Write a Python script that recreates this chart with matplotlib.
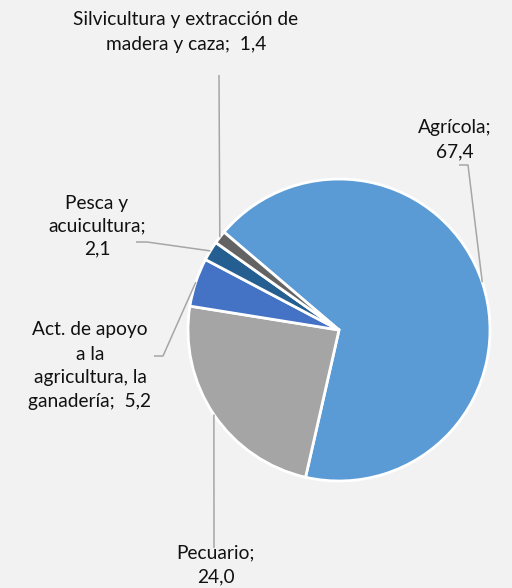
import numpy as np
import matplotlib
matplotlib.use("Agg")
import matplotlib.pyplot as plt

# ---- data ----
categories = ["Agrícola", "Pecuario", "Act. de apoyo a la agricultura, la ganadería",
              "Pesca y acuicultura", "Silvicultura y extracción de madera y caza"]
values = [67.4, 24.0, 5.2, 2.1, 1.4]
label_texts = ["Agrícola;\n67,4", "Pecuario;\n24,0",
               "Act. de apoyo\na la\nagricultura, la\nganadería;  5,2",
               "Pesca y\nacuicultura;\n2,1",
               "Silvicultura y extracción de\nmadera y caza;  1,4"]
colors = ["#5B9BD5", "#A5A5A5", "#4472C4", "#255E91", "#636363"]

W, H = 512, 588
BG = "#F2F2F2"
plt.rcParams['font.family'] = ['Lato', 'DejaVu Sans']

fig = plt.figure(figsize=(W / 100, H / 100), dpi=100, facecolor=BG)
ax = fig.add_axes([0, 0, 1, 1])
ax.set_facecolor(BG)

cx, cy_px, R = 339, 330, 151
center = (cx, H - cy_px)
start = 139.6
wedges, _ = ax.pie(values, colors=colors, startangle=start, counterclock=False,
                   center=center, radius=R, frame=True,
                   wedgeprops=dict(edgecolor='white', linewidth=2))
ax.set_xlim(0, W)
ax.set_ylim(0, H)
ax.set_aspect('equal')
ax.axis('off')

# label layout (pixel coords, y from top): text centre, leader start points
text_pos = [(455, 140), (216, 565), (90, 366), (97, 226), (186, 32)]
spacing = [1.5, 1.5, 1.5, 1.4, 1.6]
leader_start = [[(459, 165), (468, 165)],
                [(214, 548)],
                [(154, 356), (163, 356)],
                [(136, 242), (147, 242)],
                [(219, 75)]]
line_c = "#A6A6A6"
for w, txt, tp, ls, sp in zip(wedges, label_texts, text_pos, leader_start, spacing):
    mid = np.deg2rad((w.theta1 + w.theta2) / 2)
    ax_x = center[0] + R * np.cos(mid)
    ax_y = center[1] + R * np.sin(mid)
    xs = [p[0] for p in ls] + [ax_x]
    ys = [H - p[1] for p in ls] + [ax_y]
    ax.plot(xs, ys, color=line_c, lw=1.1, solid_capstyle='butt')
    ax.text(tp[0], H - tp[1], txt, ha='center', va='center', fontsize=13.8,
            color='#111111', linespacing=sp)

fig.savefig("out.png", dpi=100, facecolor=BG)
